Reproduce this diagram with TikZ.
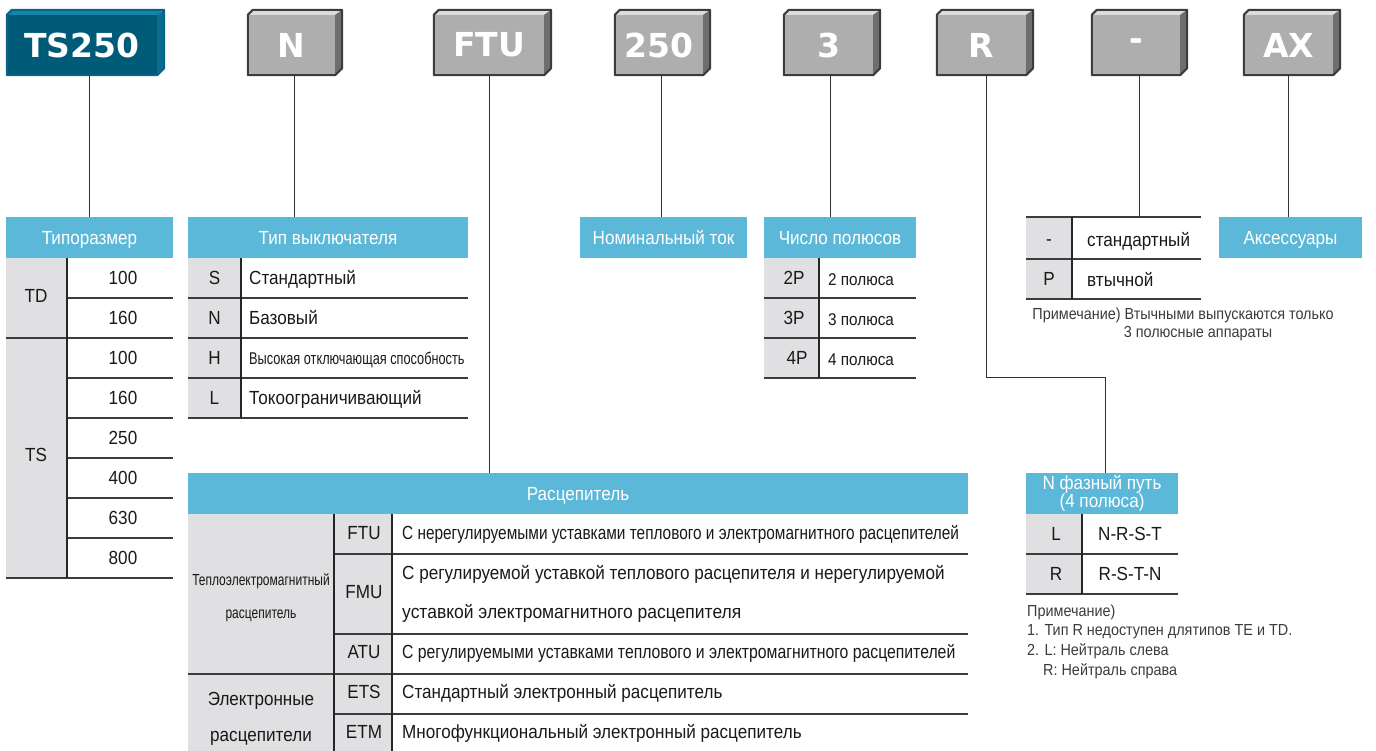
\documentclass[tikz,border=0pt]{standalone}
\usepackage{fontspec}
\setmainfont[FakeStretch=0.9]{Liberation Sans}
\newfontfamily\narrowfont[FakeStretch=0.75]{Liberation Sans}
\newfontfamily\tightfont[FakeStretch=0.81]{Liberation Sans}
\newfontfamily\atufont[FakeStretch=0.83]{Liberation Sans}
\newfontfamily\widefont[FakeStretch=0.92]{Liberation Sans}
\newfontfamily\boxfont{DejaVu Sans}
\usetikzlibrary{calc}
\definecolor{hdrblue}{RGB}{91,184,216}
\definecolor{cellgray}{RGB}{224,224,226}
\definecolor{txtc}{RGB}{25,25,25}
\definecolor{linec}{RGB}{60,60,60}
\definecolor{gfront}{RGB}{173,174,173}
\definecolor{gtop}{RGB}{220,220,220}
\definecolor{gside}{RGB}{110,110,110}
\definecolor{goutline}{RGB}{60,60,60}
\definecolor{tfront}{RGB}{0,91,120}
\definecolor{ttop}{RGB}{20,132,168}
\definecolor{tside}{RGB}{10,110,144}
\definecolor{toutline}{RGB}{8,100,135}
\newcommand{\fs}[1]{\fontsize{#1}{#1}\selectfont}
\tikzset{
  boxfront/.style={inner sep=0, minimum height=60, text=white, font=\boxfont\bfseries\fs{33}},
  hdrbase/.style={fill=hdrblue, text=white, inner sep=0, minimum height=41, font=\fs{19}},
  hdr/.style={hdrbase, text height=13.6, text depth=0},
  txt/.style={text=txtc, inner sep=0, font=\fs{19}, text height=13.6, text depth=0},
  ltxt/.style={txt, anchor=west},
  notetxt/.style={text=txtc!85, inner sep=0, font=\fs{16}},
  hrule/.style={draw=linec, line width=1.2},
  vrule/.style={draw=black!85, line width=1.3},
  conn/.style={draw=black!80, line width=1},
  frame/.style={inner sep=0}
}
% 3D label box: name, centre x, width, label, front, top, side, outline
\newcommand{\mybox}[8]{%
  \node[boxfront, fill=#5, minimum width=#3] (#1) at (#2,45) {#4};
  \fill[#6] (#1.north west) -- ++(5,-5) -- ($(#1.north east)+(7,-5)$) -- (#1.north east) -- cycle;
  \fill[#7] (#1.north east) -- ($(#1.north east)+(7,-5)$) -- ($(#1.south east)+(7,-7)$) -- (#1.south east) -- cycle;
  \draw[#8, line width=2, line join=round] (#1.south west) -- (#1.north west) -- ++(5,-5) -- ($(#1.north east)+(7,-5)$) -- ($(#1.south east)+(7,-7)$) -- (#1.south east) -- cycle;
}
\begin{document}
\begin{tikzpicture}[x=1pt,y=-1pt]
\useasboundingbox (0,0) rectangle (1376,751);

% ---------- top boxes ----------
\mybox{bTS}{82}{150}{TS250}{tfront}{ttop}{tside}{toutline}
\mybox{bN}{291.5}{87}{N}{gfront}{gtop}{gside}{goutline}
\mybox{bFTU}{489}{110}{FTU}{gfront}{gtop}{gside}{goutline}
\mybox{bC}{659}{88}{250}{gfront}{gtop}{gside}{goutline}
\mybox{bP}{828.5}{89}{3}{gfront}{gtop}{gside}{goutline}
\mybox{bR}{981.5}{89}{R}{gfront}{gtop}{gside}{goutline}
\mybox{bD}{1136}{88}{-}{gfront}{gtop}{gside}{goutline}
\mybox{bAX}{1288.5}{89}{AX}{gfront}{gtop}{gside}{goutline}

% ---------- Типоразмер ----------
\node[hdr, minimum width=167] (hTip) at (89.5,237.5) {Типоразмер};
\fill[cellgray] (6,258) rectangle (67,578);
\draw[hrule] (6,338) -- (173,338) (6,578) -- (173,578);
\foreach \y in {298,378,418,458,498,538} \draw[hrule] (67,\y) -- (173,\y);
\draw[vrule] (67,258) -- (67,578);
\node[txt] (tTD) at (36,296) {TD};
\node[txt] (tTS) at (36,455) {TS};
\node[txt] (t1) at (123,278) {100};
\node[txt] (t2) at (123,318) {160};
\node[txt] (t3) at (123,358) {100};
\node[txt] (t4) at (123,398) {160};
\node[txt] (t5) at (123,438) {250};
\node[txt] (t6) at (123,478) {400};
\node[txt] (t7) at (123,518) {630};
\node[txt] (t8) at (123,558) {800};

% ---------- Тип выключателя ----------
\node[hdr, minimum width=280] (hTyp) at (328,237.5) {Тип выключателя};
\fill[cellgray] (188,258) rectangle (241,418);
\foreach \y in {298,338,378,418} \draw[hrule] (188,\y) -- (468,\y);
\draw[vrule] (241,258) -- (241,418);
\node[txt] (kS) at (214.5,278) {S};
\node[txt] (kN) at (214.5,318) {N};
\node[txt] (kH) at (214.5,358) {H};
\node[txt] (kL) at (214.5,398) {L};
\node[ltxt] (dS) at (249,278) {Стандартный};
\node[ltxt] (dN) at (249,318) {Базовый};
\node[ltxt, font={\narrowfont\fs{17}}, text height=12.2] (dH) at (249,358) {Высокая отключающая способность};
\node[ltxt] (dL) at (249,398) {Токоограничивающий};

% ---------- Номинальный ток ----------
\node[hdr, minimum width=167] (hNom) at (663.5,237.5) {Номинальный ток};

% ---------- Число полюсов ----------
\node[hdr, minimum width=152] (hPol) at (840,237.5) {Число полюсов};
\fill[cellgray] (764,258) rectangle (819,378);
\foreach \y in {298,338,378} \draw[hrule] (764,\y) -- (916,\y);
\draw[vrule] (819,258) -- (819,378);
\node[txt] (p2) at (794,278) {2P};
\node[txt] (p3) at (794,318) {3P};
\node[txt] (p4) at (797,358) {4P};
\node[ltxt, font={\fs{17}}, text height=12.2] (q2) at (828,279) {2 полюса};
\node[ltxt, font={\fs{17}}, text height=12.2] (q3) at (828,319) {3 полюса};
\node[ltxt, font={\fs{17}}, text height=12.2] (q4) at (828,359) {4 полюса};

% ---------- - / P ----------
\node[frame, minimum width=175, minimum height=82] (tDash) at (1113.5,258) {};
\fill[cellgray] (1026,217) rectangle (1072,299);
\foreach \y in {217,259,299} \draw[hrule] (1026,\y) -- (1201,\y);
\draw[vrule] (1072,217) -- (1072,299);
\node[txt] (mD) at (1049,239) {-};
\node[txt] (mP) at (1049,279) {P};
\node[ltxt] (nD) at (1087,240) {стандартный};
\node[ltxt] (nP) at (1087,280) {втычной};
\node[notetxt] (note1) at (1183,315) {Примечание) Втычными выпускаются только};
\node[notetxt] (note2) at (1198,334) {3 полюсные аппараты};

% ---------- Аксессуары ----------
\node[hdr, minimum width=143] (hAcc) at (1290.5,237.5) {Аксессуары};

% ---------- Расцепитель ----------
\node[hdr, minimum width=780] (hRas) at (578,493.5) {Расцепитель};
\fill[cellgray] (188,514) rectangle (392,751);
\foreach \y in {554,634,714} \draw[hrule] (334,\y) -- (968,\y);
\draw[hrule] (188,674) -- (968,674);
\draw[vrule] (334,514) -- (334,751);
\draw[vrule] (392,514) -- (392,751);
\node[txt, font={\narrowfont\fs{16}}, text height=11.5] (g1a) at (261,580) {Теплоэлектромагнитный};
\node[txt, font={\narrowfont\fs{16}}, text height=11.5] (g1b) at (261,613) {расцепитель};
\node[txt] (g2a) at (261,699) {Электронные};
\node[txt] (g2b) at (261,735) {расцепители};
\node[txt] (cFTU) at (364,533) {FTU};
\node[txt] (cFMU) at (364,592) {FMU};
\node[txt] (cATU) at (364,652) {ATU};
\node[txt] (cETS) at (364,692) {ETS};
\node[txt] (cETM) at (364,732) {ETM};
\node[ltxt, font={\tightfont\fs{19}}] (rFTU) at (402,533) {С нерегулируемыми уставками теплового и электромагнитного расцепителей};
\node[ltxt] (rFMUa) at (402,573) {С регулируемой уставкой теплового расцепителя и нерегулируемой};
\node[ltxt, font={\widefont\fs{19}}] (rFMUb) at (402,612) {уставкой электромагнитного расцепителя};
\node[ltxt, font={\atufont\fs{19}}] (rATU) at (402,652) {С регулируемыми уставками теплового и электромагнитного расцепителей};
\node[ltxt] (rETS) at (402,692) {Стандартный электронный расцепитель};
\node[ltxt] (rETM) at (402,732) {Многофункциональный электронный расцепитель};

% ---------- N фазный путь ----------
\node[hdrbase, minimum width=152, align=center, font={\fontsize{19}{17}\selectfont}] (hNf) at (1102,493.5) {N фазный путь\\(4 полюса)};
\fill[cellgray] (1026,514) rectangle (1082,594);
\foreach \y in {554,594} \draw[hrule] (1026,\y) -- (1178,\y);
\draw[vrule] (1082,514) -- (1082,594);
\node[txt] (fL) at (1056,534) {L};
\node[txt] (fR) at (1056,574) {R};
\node[txt] (fLv) at (1130,534) {N-R-S-T};
\node[txt] (fRv) at (1130,574) {R-S-T-N};
\node[notetxt, anchor=west] (n1) at (1027,612) {Примечание)};
\node[notetxt, anchor=west] (n2) at (1027,632) {1. Тип R недоступен длятипов TE и TD.};
\node[notetxt, anchor=west] (n3) at (1027,651) {2. L: Нейтраль слева};
\node[notetxt, anchor=west] (n4) at (1043,671) {R: Нейтраль справа};

% ---------- connectors ----------
\draw[conn] ([xshift=7pt]bTS.south) -- ([xshift=7pt]bTS.south |- hTip.north);
\draw[conn] ([xshift=2.5pt]bN.south) -- ([xshift=2.5pt]bN.south |- hTyp.north);
\draw[conn] (bFTU.south) -- (bFTU.south |- hRas.north);
\draw[conn] ([xshift=2pt]bC.south) -- ([xshift=2pt]bC.south |- hNom.north);
\draw[conn] ([xshift=1.5pt]bP.south) -- ([xshift=1.5pt]bP.south |- hPol.north);
\coordinate (rk) at (1105,377);
\draw[conn] ([xshift=4.5pt]bR.south) |- (rk) -- (rk |- hNf.north);
\draw[conn] ([xshift=3pt]bD.south) -- ([xshift=3pt]bD.south |- tDash.north);
\draw[conn] (bAX.south) -- (bAX.south |- hAcc.north);
\end{tikzpicture}
\end{document}
